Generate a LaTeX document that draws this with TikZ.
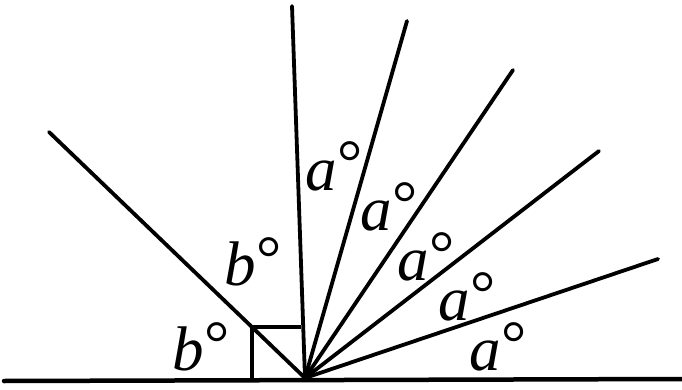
\documentclass[tikz,border=0pt]{standalone}
\usepackage{fontspec}
\setmainfont{Liberation Serif}
\newcommand{\dg}{\kern1pt\raisebox{6pt}{\upshape °}}
\begin{document}
\begin{tikzpicture}[x=1pt,y=-1pt,
  ray/.style={line width=3.8pt,line cap=round},
  lbl/.style={inner sep=0pt,anchor=base west,text height=30pt,text depth=0pt,font=\fontsize{63}{63}\selectfont\itshape}]
\useasboundingbox (0,0) rectangle (682,390);
\coordinate (O) at (305,378);
\coordinate (L) at (4,381);
\coordinate (R) at (682,379);
\coordinate (V) at (292,6);
\coordinate (P1) at (407,21);
\coordinate (P2) at (513,70);
\coordinate (P3) at (599,151);
\coordinate (P4) at (658,259);
\coordinate (Q) at (49,132);
\coordinate (S1) at (252,380);
\coordinate (S2) at (252,327);
\coordinate (S3) at (301,327);
\draw[ray,line width=4.5pt] (L) -- (R);
\draw[ray] (O) -- (V);
\draw[ray] (O) -- (P1);
\draw[ray] (O) -- (P2);
\draw[ray] (O) -- (P3);
\draw[ray] (O) -- (P4);
\draw[ray] (O) -- (Q);
\draw[ray,line cap=butt] (S1) -- (S2) -- (S3);
\node[lbl] (a1) at (305,190) {a\dg};
\node[lbl] (a2) at (360,230) {a\dg};
\node[lbl] (a3) at (397,280) {a\dg};
\node[lbl] (a4) at (438,320) {a\dg};
\node[lbl] (a5) at (469,370) {a\dg};
\node[lbl] (b1) at (224,285) {b\dg};
\node[lbl] (b2) at (172,370) {b\dg};
\end{tikzpicture}
\end{document}
